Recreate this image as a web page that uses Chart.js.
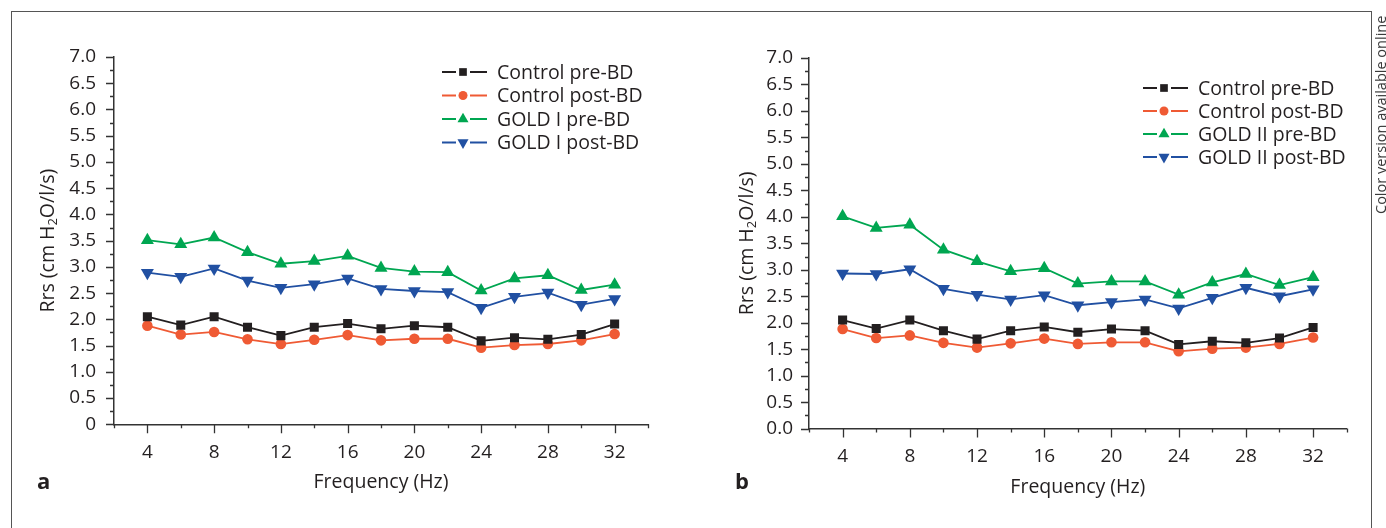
<!DOCTYPE html>
<html>
<head>
<meta charset="utf-8">
<script src="https://cdn.jsdelivr.net/npm/chart.js@4.4.1/dist/chart.umd.min.js"></script>
<style>
  html, body { margin: 0; padding: 0; background: #fff; }
  body { width: 1386px; height: 528px; position: relative; overflow: hidden; font-family: 'Open Sans', sans-serif; color: #231f20; }
  .frame { position: absolute; left: 11px; top: 11px; width: 1361px; height: 600px; box-sizing: border-box;
           border-left: 1.5px solid #555; border-top: 1.5px solid #555; border-right: 1.5px solid #555; }
  canvas { position: absolute; top: 0; }
  #chartA { left: 0; }
  #chartB { left: 693px; }
  .panel { position: absolute; top: 469px; font-size: 22px; line-height: 22px; font-weight: bold; }
  .note { position: absolute; left: 1374px; top: 214px; font-size: 14.5px; line-height: 14px; color: #3a3a3a;
          white-space: nowrap; transform: rotate(-90deg); transform-origin: 0 0; }
</style>
</head>
<body>
<div class="frame"></div>
<canvas id="chartA" width="693" height="528"></canvas>
<canvas id="chartB" width="693" height="528"></canvas>
<div class="panel" style="left:37px">a</div>
<div class="panel" style="left:735px">b</div>
<div class="note">Color version available online</div>
<script>
// frequencies (Hz)
const freqs = [4, 6, 8, 10, 12, 14, 16, 18, 20, 22, 24, 26, 28, 30, 32];

// controls (same in both panels)
const controlPre  = [2.05, 1.89, 2.05, 1.85, 1.69, 1.85, 1.92, 1.82, 1.88, 1.85, 1.59, 1.65, 1.62, 1.71, 1.91];
const controlPost = [1.88, 1.71, 1.76, 1.62, 1.53, 1.61, 1.70, 1.60, 1.63, 1.63, 1.46, 1.51, 1.53, 1.60, 1.72];

// panel a: GOLD I
const goldIPre  = [3.51, 3.43, 3.56, 3.28, 3.06, 3.11, 3.21, 2.98, 2.91, 2.90, 2.55, 2.78, 2.84, 2.56, 2.66];
const goldIPost = [2.89, 2.81, 2.97, 2.74, 2.60, 2.67, 2.78, 2.58, 2.54, 2.52, 2.22, 2.43, 2.51, 2.28, 2.39];

// panel b: GOLD II
const goldIIPre  = [4.01, 3.79, 3.85, 3.38, 3.16, 2.97, 3.03, 2.74, 2.78, 2.78, 2.53, 2.76, 2.92, 2.71, 2.86];
const goldIIPost = [2.93, 2.92, 3.01, 2.64, 2.53, 2.44, 2.52, 2.33, 2.39, 2.44, 2.27, 2.47, 2.66, 2.50, 2.63];

// tick labels
const xTickLabels = ['4', '8', '12', '16', '20', '24', '28', '32'];
const yTickLabelsA = ['0', '0.5', '1.0', '1.5', '2.0', '2.5', '3.0', '3.5', '4.0', '4.5', '5.0', '5.5', '6.0', '6.5', '7.0'];
const yTickLabelsB = ['0.0', '0.5', '1.0', '1.5', '2.0', '2.5', '3.0', '3.5', '4.0', '4.5', '5.0', '5.5', '6.0', '6.5', '7.0'];

const textColor = '#231f20';
const axisColor = '#333';
const FONT = "'Open Sans', sans-serif";

const seriesStyle = [
  { color: '#231f20', marker: 'rect',    radius: 6.4, rotation: 0 },
  { color: '#ef5a34', marker: 'circle',  radius: 5.3, rotation: 0 },
  { color: '#00a651', marker: 'triUp',   radius: 7.5, rotation: 0 },
  { color: '#2150a2', marker: 'triDown', radius: 7.5, rotation: 180 }
];

function drawMarker(ctx, style, x, y, r, color) {
  ctx.fillStyle = color;
  ctx.beginPath();
  if (style === 'rect') {
    const s = r * Math.SQRT1_2;
    ctx.rect(x - s, y - s, 2 * s, 2 * s);
  } else if (style === 'circle') {
    ctx.arc(x, y, r, 0, Math.PI * 2);
  } else {
    const d = style === 'triUp' ? 1 : -1;
    ctx.moveTo(x, y - d * r);
    ctx.lineTo(x + r * 0.866, y + d * r / 2);
    ctx.lineTo(x - r * 0.866, y + d * r / 2);
    ctx.closePath();
  }
  ctx.fill();
}

// tick marks, legend and y title
const decor = {
  id: 'decor',
  afterDraw(chart, args, opts) {
    const ctx = chart.ctx;
    const xs = chart.scales.x, ys = chart.scales.y;
    const area = chart.chartArea;
    ctx.save();
    ctx.strokeStyle = axisColor;
    ctx.lineWidth = 1.3;
    ctx.beginPath();
    const yMajor = opts.yTicks.map(Number);
    yMajor.forEach(v => {
      const p = Math.round(ys.getPixelForValue(v)) + 0.5;
      ctx.moveTo(area.left - 8, p); ctx.lineTo(area.left, p);
    });
    for (let i = 0; i < yMajor.length - 1; i++) {
      const p = Math.round(ys.getPixelForValue((yMajor[i] + yMajor[i + 1]) / 2)) + 0.5;
      ctx.moveTo(area.left - 4, p); ctx.lineTo(area.left, p);
    }
    const xMajor = xTickLabels.map(Number);
    xMajor.forEach(v => {
      const p = Math.round(xs.getPixelForValue(v)) + 0.5;
      ctx.moveTo(p, area.bottom); ctx.lineTo(p, area.bottom + 9);
    });
    xMajor.concat([xMajor[xMajor.length - 1] + 4]).forEach(v => {
      const p = Math.round(xs.getPixelForValue(v - 2)) + 0.5;
      ctx.moveTo(p, area.bottom); ctx.lineTo(p, area.bottom + 4);
    });
    ctx.stroke();

    // legend
    ctx.font = '19.5px ' + FONT;
    ctx.textBaseline = 'middle';
    ctx.textAlign = 'left';
    opts.names.forEach((name, i) => {
      const st = seriesStyle[i];
      const y = opts.legendY + i * opts.legendStep;
      const x0 = opts.legendX;
      ctx.strokeStyle = st.color;
      ctx.lineWidth = 1.8;
      ctx.beginPath();
      ctx.moveTo(x0, y); ctx.lineTo(x0 + 14, y);
      ctx.moveTo(x0 + 28, y); ctx.lineTo(x0 + 45, y);
      ctx.stroke();
      drawMarker(ctx, st.marker, x0 + 21, y, st.radius * 0.85, st.color);
      ctx.fillStyle = textColor;
      ctx.fillText(name, x0 + 55, y + 1);
    });

    // y axis title with subscript
    ctx.translate(opts.yTitleX, (area.top + area.bottom) / 2);
    ctx.rotate(-Math.PI / 2);
    ctx.fillStyle = textColor;
    ctx.textBaseline = 'middle';
    const big = '19.5px ' + FONT, small = '13px ' + FONT;
    const parts = [['Rrs (cm H', big, 0], ['2', small, 5], ['O/l/s)', big, 0]];
    let total = 0;
    parts.forEach(p => { ctx.font = p[1]; total += ctx.measureText(p[0]).width; });
    let cx = -total / 2;
    parts.forEach(p => {
      ctx.font = p[1];
      ctx.fillText(p[0], cx, p[2]);
      cx += ctx.measureText(p[0]).width;
    });
    ctx.restore();
  }
};

function buildChart(canvasId, pre, post, names, yTicks, box) {
  const seriesData = [controlPre, controlPost, pre, post];
  const datasets = seriesData.map((vals, i) => ({
    label: names[i],
    data: freqs.map((f, j) => ({ x: f, y: vals[j] })),
    borderColor: seriesStyle[i].color,
    backgroundColor: seriesStyle[i].color,
    borderWidth: 1.8,
    pointStyle: seriesStyle[i].marker === 'rect' ? 'rect' : (seriesStyle[i].marker === 'circle' ? 'circle' : 'triangle'),
    pointRotation: seriesStyle[i].rotation,
    pointRadius: seriesStyle[i].radius,
    pointBorderWidth: 0,
    tension: 0
  }));

  new Chart(document.getElementById(canvasId), {
    type: 'line',
    data: { datasets },
    plugins: [decor],
    options: {
      responsive: false,
      animation: false,
      layout: { padding: { left: 0, top: box.top, right: box.right, bottom: 0 } },
      plugins: {
        legend: { display: false },
        tooltip: { enabled: false },
        decor: { names, yTicks, legendX: box.legendX, legendY: box.legendY, legendStep: box.legendStep, yTitleX: box.yTitleX }
      },
      scales: {
        x: {
          type: 'linear',
          min: 2,
          max: 34,
          afterBuildTicks: s => { s.ticks = xTickLabels.map(v => ({ value: Number(v) })); },
          afterFit: s => { s.height = box.xHeight; },
          grid: { display: false, drawTicks: false },
          border: { display: true, color: axisColor, width: 1.5 },
          ticks: {
            autoSkip: false, maxRotation: 0, padding: box.xPad,
            color: textColor, font: { family: FONT, size: 19 },
            callback: (v, i) => xTickLabels[i]
          },
          title: {
            display: true, text: 'Frequency (Hz)', color: textColor,
            font: { family: FONT, size: 19.5 },
            padding: { top: 0, bottom: box.titlePad }
          }
        },
        y: {
          min: 0,
          max: 7,
          afterBuildTicks: s => { s.ticks = yTicks.map(v => ({ value: Number(v) })); },
          afterFit: s => { s.width = box.yWidth; },
          grid: { display: false, drawTicks: false },
          border: { display: true, color: axisColor, width: 1.5 },
          ticks: {
            autoSkip: false, padding: box.yPad,
            color: textColor, font: { family: FONT, size: 19 },
            callback: (v, i) => yTicks[i]
          }
        }
      }
    }
  });
}

buildChart('chartA', goldIPre, goldIPost,
  ['Control pre-BD', 'Control post-BD', 'GOLD I pre-BD', 'GOLD I post-BD'], yTickLabelsA,
  { top: 57, right: 45, yWidth: 114, xHeight: 103.7, xPad: 17, yPad: 18, titlePad: 33.6,
    legendX: 442, legendY: 72, legendStep: 23.5, yTitleX: 48 });

buildChart('chartB', goldIIPre, goldIIPost,
  ['Control pre-BD', 'Control post-BD', 'GOLD II pre-BD', 'GOLD II post-BD'], yTickLabelsB,
  { top: 58, right: 39.3, yWidth: 116, xHeight: 99.4, xPad: 17, yPad: 16, titlePad: 29.3,
    legendX: 450, legendY: 88, legendStep: 23, yTitleX: 54 });
</script>
</body>
</html>
